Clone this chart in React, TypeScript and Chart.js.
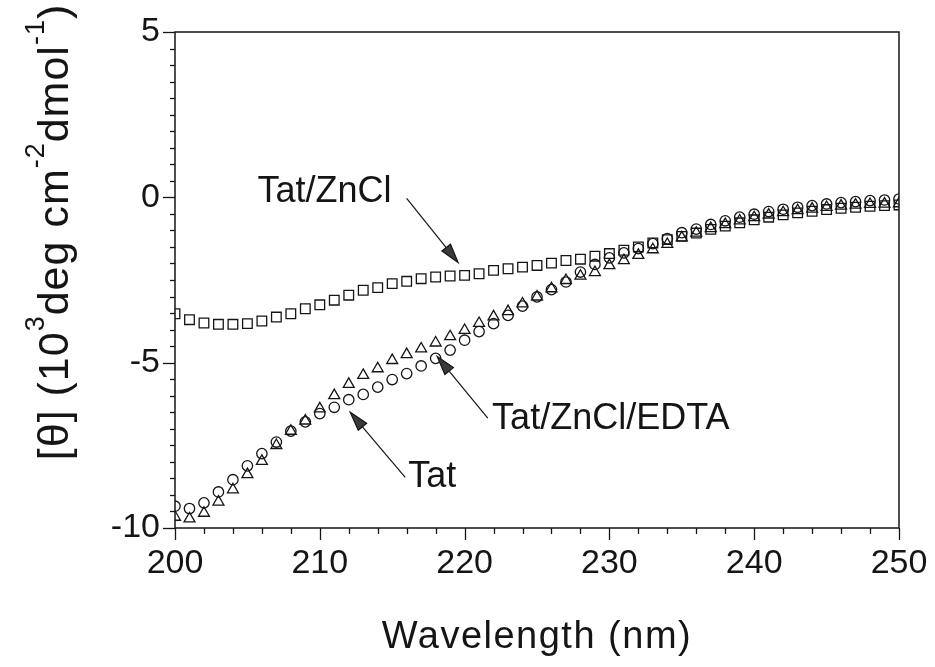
import React, { useEffect, useRef } from "react";
import { Chart, registerables } from "chart.js";

Chart.register(...registerables);

// ---------------- DATA ----------------
const wavelengths = [
  200, 201, 202, 203, 204, 205, 206, 207, 208, 209,
  210, 211, 212, 213, 214, 215, 216, 217, 218, 219,
  220, 221, 222, 223, 224, 225, 226, 227, 228, 229,
  230, 231, 232, 233, 234, 235, 236, 237, 238, 239,
  240, 241, 242, 243, 244, 245, 246, 247, 248, 249, 250,
];

// Tat/ZnCl (squares)
const tatZnCl = [
  -3.52, -3.70, -3.80, -3.84, -3.84, -3.82, -3.74, -3.62, -3.52, -3.37,
  -3.25, -3.11, -2.96, -2.81, -2.73, -2.61, -2.54, -2.46, -2.41, -2.38,
  -2.36, -2.31, -2.21, -2.16, -2.11, -2.06, -1.99, -1.91, -1.87, -1.78,
  -1.70, -1.60, -1.50, -1.38, -1.28, -1.18, -1.08, -0.97, -0.87, -0.77,
  -0.68, -0.60, -0.53, -0.47, -0.42, -0.37, -0.33, -0.30, -0.27, -0.25, -0.23,
];

// Tat (circles)
const tat = [
  -9.34, -9.41, -9.24, -8.91, -8.54, -8.12, -7.75, -7.40, -7.07, -6.79,
  -6.54, -6.35, -6.12, -5.96, -5.74, -5.51, -5.33, -5.10, -4.87, -4.62,
  -4.32, -4.06, -3.82, -3.57, -3.29, -3.01, -2.79, -2.56, -2.26, -2.03,
  -1.83, -1.68, -1.55, -1.40, -1.25, -1.07, -0.96, -0.82, -0.71, -0.60,
  -0.51, -0.43, -0.36, -0.30, -0.25, -0.20, -0.16, -0.13, -0.10, -0.08, -0.05,
];

// Tat/ZnCl/EDTA (triangles)
const tatZnClEdta = [
  -9.67, -9.72, -9.55, -9.21, -8.84, -8.38, -7.98, -7.50, -7.07, -6.76,
  -6.39, -5.99, -5.65, -5.38, -5.18, -4.93, -4.75, -4.58, -4.40, -4.21,
  -4.02, -3.81, -3.61, -3.45, -3.22, -3.01, -2.76, -2.51, -2.38, -2.27,
  -2.06, -1.91, -1.75, -1.58, -1.42, -1.22, -1.08, -0.94, -0.82, -0.71,
  -0.61, -0.53, -0.46, -0.40, -0.35, -0.30, -0.26, -0.23, -0.21, -0.20, -0.19,
];

const xMin = 200;
const xMax = 250;
const xMajorStep = 10;
const xMinorStep = 2;
const yMin = -10;
const yMax = 5;
const yMajorStep = 5;
const yMinorStep = 0.5;

const xTitle = "Wavelength (nm)";
// y title parts: [text, isSuperscript]
const yTitleParts: [string, boolean][] = [
  ["[\u03B8] (10", false],
  ["3", true],
  ["deg cm", false],
  ["-2", true],
  ["dmol", false],
  ["-1", true],
  [")", false],
];

// annotation labels (data units)
const annotationTexts = ["Tat/ZnCl", "Tat/ZnCl/EDTA", "Tat"];
const annotationTextX = [205.7, 221.9, 216.1];
const annotationTextY = [-0.15, -7.02, -8.77];
const arrowFromX = [216.0, 221.6, 215.9];
const arrowFromY = [-0.03, -6.68, -8.47];
const arrowToX = [219.55, 218.1, 212.1];
const arrowToY = [-1.97, -4.81, -6.5];

const FONT = "'Liberation Sans', Arial, Helvetica, sans-serif";
const INK = "#151515";

const decorPlugin = {
  id: "decor",
  afterDraw(chart: any) {
    const ctx: CanvasRenderingContext2D = chart.ctx;
    const xs = chart.scales.x;
    const ys = chart.scales.y;
    const a = chart.chartArea;
    ctx.save();
    ctx.strokeStyle = INK;
    ctx.fillStyle = INK;
    ctx.lineWidth = 1.5;
    // frame
    ctx.strokeRect(a.left, a.top, a.right - a.left, a.bottom - a.top);

    // y ticks
    ctx.lineWidth = 1.3;
    const nY = Math.round((yMax - yMin) / yMinorStep);
    for (let k = 0; k <= nY; k++) {
      const v = yMin + k * yMinorStep;
      const py = Math.round(ys.getPixelForValue(v)) + 0.5;
      const major = Math.abs(v / yMajorStep - Math.round(v / yMajorStep)) < 1e-6;
      const len = major ? 12 : 5;
      ctx.beginPath();
      ctx.moveTo(a.left - len, py);
      ctx.lineTo(a.left, py);
      ctx.stroke();
    }
    // x ticks
    const nX = Math.round((xMax - xMin) / xMinorStep);
    for (let k = 0; k <= nX; k++) {
      const v = xMin + k * xMinorStep;
      const px = Math.round(xs.getPixelForValue(v)) + 0.5;
      const major = Math.abs(v / xMajorStep - Math.round(v / xMajorStep)) < 1e-6;
      const len = major ? 12 : 6;
      ctx.beginPath();
      ctx.moveTo(px, a.bottom);
      ctx.lineTo(px, a.bottom + len);
      ctx.stroke();
    }

    // annotations
    ctx.font = `36px ${FONT}`;
    ctx.textAlign = "left";
    ctx.textBaseline = "alphabetic";
    for (let i = 0; i < annotationTexts.length; i++) {
      ctx.fillStyle = INK;
      ctx.fillText(
        annotationTexts[i],
        xs.getPixelForValue(annotationTextX[i]),
        ys.getPixelForValue(annotationTextY[i])
      );
      const x1 = xs.getPixelForValue(arrowFromX[i]);
      const y1 = ys.getPixelForValue(arrowFromY[i]);
      const x2 = xs.getPixelForValue(arrowToX[i]);
      const y2 = ys.getPixelForValue(arrowToY[i]);
      const ang = Math.atan2(y2 - y1, x2 - x1);
      const headLen = 19;
      const headHalf = 5.5;
      const bx = x2 - headLen * Math.cos(ang);
      const by = y2 - headLen * Math.sin(ang);
      ctx.strokeStyle = INK;
      ctx.lineWidth = 1.2;
      ctx.beginPath();
      ctx.moveTo(x1, y1);
      ctx.lineTo(bx, by);
      ctx.stroke();
      ctx.fillStyle = "#3a3a3a";
      ctx.beginPath();
      ctx.moveTo(x2, y2);
      ctx.lineTo(bx + headHalf * Math.sin(ang), by - headHalf * Math.cos(ang));
      ctx.lineTo(bx - headHalf * Math.sin(ang), by + headHalf * Math.cos(ang));
      ctx.closePath();
      ctx.fill();
      ctx.stroke();
    }

    // x title
    ctx.fillStyle = INK;
    ctx.font = `38px ${FONT}`;
    (ctx as any).letterSpacing = "1.5px";
    ctx.textAlign = "center";
    ctx.fillText(xTitle, (a.left + a.right) / 2, 648);

    // y title (rotated, with superscripts)
    const F = 43;
    const supF = Math.round(F * 0.62);
    const raise = F * 0.55;
    (ctx as any).letterSpacing = "1px";
    ctx.textAlign = "left";
    let total = 0;
    const widths: number[] = [];
    for (const [t, sup] of yTitleParts) {
      ctx.font = `${sup ? supF : F}px ${FONT}`;
      const w = ctx.measureText(t).width;
      widths.push(w);
      total += w;
    }
    ctx.translate(68, 232);
    ctx.rotate(-Math.PI / 2);
    let cx = -total / 2;
    yTitleParts.forEach(([t, sup], i) => {
      ctx.font = `${sup ? supF : F}px ${FONT}`;
      ctx.fillText(t, cx, sup ? -raise : 0);
      cx += widths[i];
    });
    ctx.restore();
  },
};

export default function App() {
  const canvasRef = useRef<HTMLCanvasElement | null>(null);

  useEffect(() => {
    const canvas = canvasRef.current;
    if (!canvas) return;
    const mk = (arr: number[]) => wavelengths.map((x, i) => ({ x, y: arr[i] }));
    const common = {
      showLine: false,
      borderColor: INK,
      backgroundColor: "rgba(0,0,0,0)",
      borderWidth: 1.3,
    };
    const chart = new Chart(canvas, {
      type: "scatter",
      data: {
        datasets: [
          { ...common, label: "Tat/ZnCl", data: mk(tatZnCl), pointStyle: "rect", pointRadius: 6.8 },
          { ...common, label: "Tat", data: mk(tat), pointStyle: "circle", pointRadius: 5.2 },
          { ...common, label: "Tat/ZnCl/EDTA", data: mk(tatZnClEdta), pointStyle: "triangle", pointRadius: 6.3 },
        ],
      },
      options: {
        animation: false,
        responsive: false,
        devicePixelRatio: 1,
        layout: { padding: { top: 32, right: 36, left: 0, bottom: 0 } },
        plugins: { legend: { display: false }, tooltip: { enabled: false } },
        scales: {
          x: {
            type: "linear",
            min: xMin,
            max: xMax,
            afterFit: (s: any) => {
              s.height = 139;
              s.paddingLeft = 0;
              s.paddingRight = 0;
              s.paddingTop = 0;
              s.paddingBottom = 0;
            },
            grid: { display: false, drawTicks: false },
            border: { display: false },
            ticks: {
              stepSize: xMajorStep,
              padding: 15,
              color: INK,
              font: { family: FONT, size: 34 },
              callback: (v: any) => String(v),
            },
          },
          y: {
            type: "linear",
            min: yMin,
            max: yMax,
            afterFit: (s: any) => {
              s.width = 175;
              s.paddingLeft = 0;
              s.paddingRight = 0;
              s.paddingTop = 0;
              s.paddingBottom = 0;
            },
            grid: { display: false, drawTicks: false },
            border: { display: false },
            ticks: {
              stepSize: yMajorStep,
              padding: 15,
              color: INK,
              font: { family: FONT, size: 34 },
              callback: (v: any) => String(v),
            },
          },
        },
      },
      plugins: [decorPlugin],
    } as any);
    return () => chart.destroy();
  }, []);

  return (
    <div style={{ position: "fixed", left: 0, top: 0, width: 935, height: 667, background: "#fff" }}>
      <canvas ref={canvasRef} width={935} height={667} style={{ display: "block" }} />
    </div>
  );
}
